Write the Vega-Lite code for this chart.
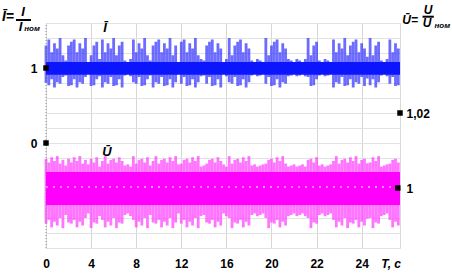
{
"$schema": "https://vega.github.io/schema/vega-lite/v6.json",
"width": 354, "height": 225,
"autosize": {"type": "none"},
"padding": {"left": 46, "top": 23, "right": 52, "bottom": 26},
"config": {"view": {"stroke": "#d9d9d9"}, "font": "Liberation Sans", "axis": {"labelFontWeight": "bold", "labelFontSize": 12, "labelColor": "#000000", "ticks": false, "domain": false, "title": null}},
"datasets": {
"sig": [
{"t":0,"ih":1.3,"il":0.8,"uh":1.0078,"ul":0.9905},
{"t":0.25,"ih":1.38,"il":0.77,"uh":1.0068,"ul":0.9915},
{"t":0.5,"ih":1.21,"il":0.85,"uh":1.0082,"ul":0.9895},
{"t":0.75,"ih":1.33,"il":0.74,"uh":1.0072,"ul":0.991},
{"t":1,"ih":1.26,"il":0.81,"uh":1.0085,"ul":0.99},
{"t":1.25,"ih":1.4,"il":0.79,"uh":1.0065,"ul":0.992},
{"t":1.5,"ih":1.17,"il":0.88,"uh":1.0075,"ul":0.9893},
{"t":1.75,"ih":1.1,"il":0.9,"uh":1.006,"ul":0.9928},
{"t":2,"ih":1.3,"il":0.76,"uh":1.0078,"ul":0.9908},
{"t":2.25,"ih":1.35,"il":0.77,"uh":1.0068,"ul":0.9905},
{"t":2.5,"ih":1.38,"il":0.85,"uh":1.0082,"ul":0.9915},
{"t":2.75,"ih":1.21,"il":0.74,"uh":1.0072,"ul":0.9895},
{"t":3,"ih":1.33,"il":0.81,"uh":1.0085,"ul":0.991},
{"t":3.25,"ih":1.26,"il":0.79,"uh":1.0065,"ul":0.99},
{"t":3.5,"ih":1.4,"il":0.88,"uh":1.0075,"ul":0.992},
{"t":3.75,"ih":1.08,"il":0.92,"uh":1.0063,"ul":0.9932},
{"t":4,"ih":1.17,"il":0.76,"uh":1.0078,"ul":0.9893},
{"t":4.25,"ih":1.3,"il":0.77,"uh":1.0068,"ul":0.9908},
{"t":4.5,"ih":1.35,"il":0.85,"uh":1.0082,"ul":0.9905},
{"t":4.75,"ih":1.12,"il":0.89,"uh":1.0057,"ul":0.9925},
{"t":5,"ih":1.38,"il":0.74,"uh":1.0072,"ul":0.9915},
{"t":5.25,"ih":1.21,"il":0.81,"uh":1.0085,"ul":0.9895},
{"t":5.5,"ih":1.33,"il":0.79,"uh":1.0065,"ul":0.991},
{"t":5.75,"ih":1.26,"il":0.88,"uh":1.0075,"ul":0.99},
{"t":6,"ih":1.4,"il":0.76,"uh":1.0078,"ul":0.992},
{"t":6.25,"ih":1.17,"il":0.77,"uh":1.0068,"ul":0.9893},
{"t":6.5,"ih":1.3,"il":0.85,"uh":1.0082,"ul":0.9908},
{"t":6.75,"ih":1.35,"il":0.74,"uh":1.0072,"ul":0.9905},
{"t":7,"ih":1.1,"il":0.9,"uh":1.006,"ul":0.9928},
{"t":7.25,"ih":1.08,"il":0.92,"uh":1.0063,"ul":0.9932},
{"t":7.5,"ih":1.12,"il":0.89,"uh":1.0057,"ul":0.9925},
{"t":7.75,"ih":1.38,"il":0.81,"uh":1.0085,"ul":0.9915},
{"t":8,"ih":1.21,"il":0.79,"uh":1.0065,"ul":0.9895},
{"t":8.25,"ih":1.33,"il":0.88,"uh":1.0075,"ul":0.991},
{"t":8.5,"ih":1.26,"il":0.76,"uh":1.0078,"ul":0.99},
{"t":8.75,"ih":1.4,"il":0.77,"uh":1.0068,"ul":0.992},
{"t":9,"ih":1.17,"il":0.85,"uh":1.0082,"ul":0.9893},
{"t":9.25,"ih":1.1,"il":0.9,"uh":1.006,"ul":0.9928},
{"t":9.5,"ih":1.3,"il":0.74,"uh":1.0072,"ul":0.9908},
{"t":9.75,"ih":1.35,"il":0.81,"uh":1.0085,"ul":0.9905},
{"t":10,"ih":1.38,"il":0.79,"uh":1.0065,"ul":0.9915},
{"t":10.25,"ih":1.21,"il":0.88,"uh":1.0075,"ul":0.9895},
{"t":10.5,"ih":1.33,"il":0.76,"uh":1.0078,"ul":0.991},
{"t":10.75,"ih":1.26,"il":0.77,"uh":1.0068,"ul":0.99},
{"t":11,"ih":1.4,"il":0.85,"uh":1.0082,"ul":0.992},
{"t":11.25,"ih":1.17,"il":0.74,"uh":1.0072,"ul":0.9893},
{"t":11.5,"ih":1.3,"il":0.81,"uh":1.0085,"ul":0.9908},
{"t":11.75,"ih":1.08,"il":0.92,"uh":1.0063,"ul":0.9932},
{"t":12,"ih":1.35,"il":0.79,"uh":1.0065,"ul":0.9905},
{"t":12.25,"ih":1.38,"il":0.88,"uh":1.0075,"ul":0.9915},
{"t":12.5,"ih":1.21,"il":0.76,"uh":1.0078,"ul":0.9895},
{"t":12.75,"ih":1.33,"il":0.77,"uh":1.0068,"ul":0.991},
{"t":13,"ih":1.26,"il":0.85,"uh":1.0082,"ul":0.99},
{"t":13.25,"ih":1.4,"il":0.74,"uh":1.0072,"ul":0.992},
{"t":13.5,"ih":1.17,"il":0.81,"uh":1.0085,"ul":0.9893},
{"t":13.75,"ih":1.12,"il":0.89,"uh":1.0057,"ul":0.9925},
{"t":14,"ih":1.1,"il":0.9,"uh":1.006,"ul":0.9928},
{"t":14.25,"ih":1.3,"il":0.79,"uh":1.0065,"ul":0.9908},
{"t":14.5,"ih":1.35,"il":0.88,"uh":1.0075,"ul":0.9905},
{"t":14.75,"ih":1.38,"il":0.76,"uh":1.0078,"ul":0.9915},
{"t":15,"ih":1.21,"il":0.77,"uh":1.0068,"ul":0.9895},
{"t":15.25,"ih":1.33,"il":0.85,"uh":1.0082,"ul":0.991},
{"t":15.5,"ih":1.26,"il":0.74,"uh":1.0072,"ul":0.99},
{"t":15.75,"ih":1.08,"il":0.92,"uh":1.0063,"ul":0.9932},
{"t":16,"ih":1.12,"il":0.89,"uh":1.0057,"ul":0.9925},
{"t":16.25,"ih":1.4,"il":0.81,"uh":1.0085,"ul":0.992},
{"t":16.5,"ih":1.17,"il":0.79,"uh":1.0065,"ul":0.9893},
{"t":16.75,"ih":1.3,"il":0.88,"uh":1.0075,"ul":0.9908},
{"t":17,"ih":1.35,"il":0.76,"uh":1.0078,"ul":0.9905},
{"t":17.25,"ih":1.38,"il":0.77,"uh":1.0068,"ul":0.9915},
{"t":17.5,"ih":1.21,"il":0.85,"uh":1.0082,"ul":0.9895},
{"t":17.75,"ih":1.33,"il":0.74,"uh":1.0072,"ul":0.991},
{"t":18,"ih":1.26,"il":0.81,"uh":1.0085,"ul":0.99},
{"t":18.25,"ih":1.1,"il":0.9,"uh":1.006,"ul":0.9928},
{"t":18.5,"ih":1.08,"il":0.92,"uh":1.0063,"ul":0.9932},
{"t":18.75,"ih":1.12,"il":0.89,"uh":1.0057,"ul":0.9925},
{"t":19,"ih":1.1,"il":0.9,"uh":1.006,"ul":0.9928},
{"t":19.25,"ih":1.08,"il":0.92,"uh":1.0063,"ul":0.9932},
{"t":19.5,"ih":1.4,"il":0.79,"uh":1.0065,"ul":0.992},
{"t":19.75,"ih":1.17,"il":0.88,"uh":1.0075,"ul":0.9893},
{"t":20,"ih":1.3,"il":0.76,"uh":1.0078,"ul":0.9908},
{"t":20.25,"ih":1.35,"il":0.77,"uh":1.0068,"ul":0.9905},
{"t":20.5,"ih":1.38,"il":0.85,"uh":1.0082,"ul":0.9915},
{"t":20.75,"ih":1.21,"il":0.74,"uh":1.0072,"ul":0.9895},
{"t":21,"ih":1.33,"il":0.81,"uh":1.0085,"ul":0.991},
{"t":21.25,"ih":1.26,"il":0.79,"uh":1.0065,"ul":0.99},
{"t":21.5,"ih":1.12,"il":0.89,"uh":1.0057,"ul":0.9925},
{"t":21.75,"ih":1.1,"il":0.9,"uh":1.006,"ul":0.9928},
{"t":22,"ih":1.08,"il":0.92,"uh":1.0063,"ul":0.9932},
{"t":22.25,"ih":1.12,"il":0.89,"uh":1.0057,"ul":0.9925},
{"t":22.5,"ih":1.1,"il":0.9,"uh":1.006,"ul":0.9928},
{"t":22.75,"ih":1.08,"il":0.92,"uh":1.0063,"ul":0.9932},
{"t":23,"ih":1.12,"il":0.89,"uh":1.0057,"ul":0.9925},
{"t":23.25,"ih":1.4,"il":0.88,"uh":1.0075,"ul":0.992},
{"t":23.5,"ih":1.17,"il":0.76,"uh":1.0078,"ul":0.9893},
{"t":23.75,"ih":1.3,"il":0.77,"uh":1.0068,"ul":0.9908},
{"t":24,"ih":1.35,"il":0.85,"uh":1.0082,"ul":0.9905},
{"t":24.25,"ih":1.1,"il":0.9,"uh":1.006,"ul":0.9928},
{"t":24.5,"ih":1.08,"il":0.92,"uh":1.0063,"ul":0.9932},
{"t":24.75,"ih":1.12,"il":0.89,"uh":1.0057,"ul":0.9925},
{"t":25,"ih":1.1,"il":0.9,"uh":1.006,"ul":0.9928},
{"t":25.25,"ih":1.08,"il":0.92,"uh":1.0063,"ul":0.9932},
{"t":25.5,"ih":1.38,"il":0.74,"uh":1.0072,"ul":0.9915},
{"t":25.75,"ih":1.21,"il":0.81,"uh":1.0085,"ul":0.9895},
{"t":26,"ih":1.33,"il":0.79,"uh":1.0065,"ul":0.991},
{"t":26.25,"ih":1.26,"il":0.88,"uh":1.0075,"ul":0.99},
{"t":26.5,"ih":1.4,"il":0.76,"uh":1.0078,"ul":0.992},
{"t":26.75,"ih":1.17,"il":0.77,"uh":1.0068,"ul":0.9893},
{"t":27,"ih":1.3,"il":0.85,"uh":1.0082,"ul":0.9908},
{"t":27.25,"ih":1.35,"il":0.74,"uh":1.0072,"ul":0.9905},
{"t":27.5,"ih":1.38,"il":0.81,"uh":1.0085,"ul":0.9915},
{"t":27.75,"ih":1.21,"il":0.79,"uh":1.0065,"ul":0.9895},
{"t":28,"ih":1.33,"il":0.88,"uh":1.0075,"ul":0.991},
{"t":28.25,"ih":1.26,"il":0.76,"uh":1.0078,"ul":0.99},
{"t":28.5,"ih":1.15,"il":0.86,"uh":1.0066,"ul":0.9918},
{"t":28.75,"ih":1.4,"il":0.77,"uh":1.0068,"ul":0.992},
{"t":29,"ih":1.17,"il":0.85,"uh":1.0082,"ul":0.9893},
{"t":29.25,"ih":1.3,"il":0.74,"uh":1.0072,"ul":0.9908},
{"t":29.5,"ih":1.35,"il":0.81,"uh":1.0085,"ul":0.9905},
{"t":29.75,"ih":1.1,"il":0.9,"uh":1.0057,"ul":0.9925},
{"t":30,"ih":1.08,"il":0.92,"uh":1.006,"ul":0.9928},
{"t":30.25,"ih":1.12,"il":0.89,"uh":1.0063,"ul":0.9932},
{"t":30.5,"ih":1.38,"il":0.79,"uh":1.0065,"ul":0.9915},
{"t":30.75,"ih":1.21,"il":0.88,"uh":1.0075,"ul":0.9895},
{"t":31,"ih":1.33,"il":0.76,"uh":1.0078,"ul":0.991},
{"t":31.25,"ih":1.26,"il":0.77,"uh":1.0068,"ul":0.99}
],
"texts": [
{"s":"Ī=","t":-3.37,"v":1.68,"sz":14},
{"s":"I","t":-2.04,"v":1.75,"sz":13},
{"s":"I","t":-2.26,"v":1.545,"sz":13},
{"s":"ном","t":-1.24,"v":1.515,"sz":8},
{"s":"Ī","t":5.24,"v":1.533,"sz":13},
{"s":"Ū","t":5.41,"v":-0.12,"sz":13},
{"s":"Ū=","t":32.3,"v":1.64,"sz":12},
{"s":"U","t":33.9,"v":1.775,"sz":12},
{"s":"U","t":33.8,"v":1.6,"sz":12},
{"s":"ном","t":35.15,"v":1.565,"sz":8},
{"s":"T, c","t":30.61,"v":-1.613,"sz":12}
],
"bars": [
{"t1":-2.66,"t2":-1.33,"v":1.64},
{"t1":33.4,"t2":34.4,"v":1.684}
]
},
"layer": [
{
"data": {"name": "sig"},
"mark": {"type": "rule", "color": "#3333ff", "strokeWidth": 2.8, "opacity": 0.72},
"encoding": {
"x": {"field": "t", "type": "quantitative", "scale": {"domain": [0, 31.4], "nice": false},
"axis": {"values": [0, 4, 8, 12, 16, 20, 24, 28], "labelExpr": "datum.value == 24 ? '22' : (datum.value == 28 ? '24' : datum.label)", "grid": true, "gridColor": "#d6d6d6", "labelPadding": 10, "labelFlush": false}},
"y": {"field": "ih", "type": "quantitative", "scale": {"domain": [-1.4, 1.6], "nice": false, "zero": false},
"axis": {"orient": "left", "values": [0, 1], "grid": false, "labelPadding": 9}},
"y2": {"field": "il"}
}
},
{
"data": {"name": "sig"},
"mark": {"type": "rule", "color": "#ff40ff", "strokeWidth": 2.8, "opacity": 0.72},
"encoding": {
"x": {"field": "t", "type": "quantitative", "scale": {"domain": [0, 31.4], "nice": false}},
"y": {"field": "uh", "type": "quantitative", "scale": {"domain": [0.984, 1.044], "nice": false, "zero": false},
"axis": {"orient": "right", "values": [0.984, 0.988, 0.992, 0.996, 1, 1.004, 1.008, 1.012, 1.016, 1.02, 1.024, 1.028, 1.032, 1.036, 1.04, 1.044], "labelExpr": "datum.value == 1 ? '1' : (datum.value == 1.02 ? '1,02' : '')", "grid": true, "gridColor": "#e2e2e2", "labelPadding": 6}},
"y2": {"field": "ul"}
}
},
{
"data": {"values": [{}]},
"mark": {"type": "rule", "color": "#8c8c8c", "strokeDash": [1, 2], "strokeWidth": 1},
"encoding": {
"x": {"datum": 0, "type": "quantitative"},
"y": {"datum": -1.4, "type": "quantitative", "scale": {"domain": [-1.4, 1.6], "nice": false, "zero": false}, "axis": null},
"y2": {"datum": 1.6}
}
},
{
"data": {"values": [{}]},
"mark": {"type": "rect", "color": "#0b16ff"},
"encoding": {
"x": {"datum": 0, "type": "quantitative"},
"x2": {"datum": 31.4},
"y": {"datum": 0.91, "type": "quantitative", "scale": {"domain": [-1.4, 1.6], "nice": false, "zero": false}, "axis": null},
"y2": {"datum": 1.08}
}
},
{
"data": {"values": [{}]},
"mark": {"type": "rect", "color": "#ff00ff"},
"encoding": {
"x": {"datum": 0, "type": "quantitative"},
"x2": {"datum": 31.4},
"y": {"datum": 0.9955, "type": "quantitative", "scale": {"domain": [0.984, 1.044], "nice": false, "zero": false}, "axis": null},
"y2": {"datum": 1.0043}
}
},
{
"data": {"values": [{}]},
"mark": {"type": "rule", "color": "#ffb8ff", "strokeWidth": 1.5, "strokeDash": [2, 5]},
"encoding": {
"x": {"datum": 0, "type": "quantitative"},
"x2": {"datum": 31.4},
"y": {"datum": 1.0003, "type": "quantitative", "scale": {"domain": [0.984, 1.044], "nice": false, "zero": false}, "axis": null}
}
},
{
"data": {"values": [{"t": 0, "v": 1}, {"t": 0, "v": 0}]},
"mark": {"type": "point", "shape": "square", "filled": true, "color": "#000000", "size": 30, "opacity": 1},
"encoding": {
"x": {"field": "t", "type": "quantitative"},
"y": {"field": "v", "type": "quantitative", "scale": {"domain": [-1.4, 1.6], "nice": false, "zero": false}, "axis": null}
}
},
{
"data": {"values": [{"t": 31.4, "v": 1.02}, {"t": 31.2, "v": 1}]},
"mark": {"type": "point", "shape": "square", "filled": true, "color": "#000000", "size": 30, "opacity": 1},
"encoding": {
"x": {"field": "t", "type": "quantitative"},
"y": {"field": "v", "type": "quantitative", "scale": {"domain": [0.984, 1.044], "nice": false, "zero": false}, "axis": null}
}
},
{
"data": {"name": "texts"},
"mark": {"type": "text", "fontWeight": "bold", "fontStyle": "italic", "color": "#000000", "align": "center", "baseline": "middle"},
"encoding": {
"x": {"field": "t", "type": "quantitative"},
"y": {"field": "v", "type": "quantitative", "scale": {"domain": [-1.4, 1.6], "nice": false, "zero": false}, "axis": null},
"text": {"field": "s"},
"size": {"field": "sz", "type": "quantitative", "scale": null}
}
},
{
"data": {"name": "bars"},
"mark": {"type": "rule", "color": "#000000", "strokeWidth": 2},
"encoding": {
"x": {"field": "t1", "type": "quantitative"},
"x2": {"field": "t2"},
"y": {"field": "v", "type": "quantitative", "scale": {"domain": [-1.4, 1.6], "nice": false, "zero": false}, "axis": null}
}
}
],
"resolve": {"scale": {"y": "independent"}, "axis": {"y": "independent"}}
}
